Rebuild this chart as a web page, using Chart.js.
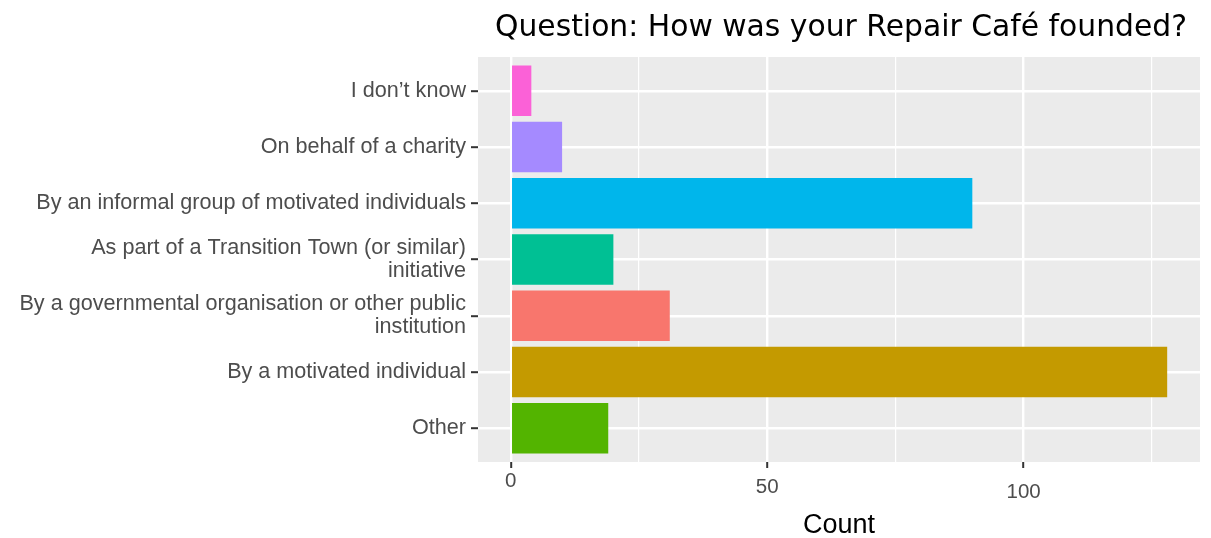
<!DOCTYPE html>
<html>
<head>
<meta charset="utf-8">
<script src="https://cdn.jsdelivr.net/npm/chart.js@4/dist/chart.umd.min.js"></script>
<style>
  html, body { margin: 0; padding: 0; background: #fff; }
  canvas { display: block; }
</style>
</head>
<body>
<canvas id="chart" width="1211" height="538"></canvas>
<script>
const chartTitle = 'Question: How was your Repair Café founded?';
const axisTitle = 'Count';

// top to bottom, as in the picture
const categories = [
    'I don\u2019t know',
    'On behalf of a charity',
    'By an informal group of motivated individuals',
    'As part of a Transition Town (or similar)\ninitiative',
    'By a governmental organisation or other public\ninstitution',
    'By a motivated individual',
    'Other',
];
const counts = [4, 10, 90, 20, 31, 128, 19];
const barColors = ['#FB61D7', '#A58AFF', '#00B6EB', '#00C094', '#F8766D', '#C49A00', '#53B400'];

const xGridTicks = [0, 25, 50, 75, 100, 125];
const xLabelTicks = [0, 50, 100];

const AXIS_FONT = "'Liberation Sans', Arial, sans-serif";
const TEXT_GREY = '#4D4D4D';

const ggPanel = {
    id: 'ggPanel',
    beforeDraw(chart) {
        const { ctx, chartArea } = chart;
        ctx.save();
        ctx.fillStyle = '#EBEBEB';
        ctx.fillRect(chartArea.left, chartArea.top, chartArea.right - chartArea.left, chartArea.bottom - chartArea.top);
        ctx.restore();
    },
    afterDraw(chart) {
        const { ctx, chartArea, scales } = chart;
        const mid = (chartArea.left + chartArea.right) / 2;

        ctx.save();
        ctx.fillStyle = '#000';
        ctx.textAlign = 'center';
        ctx.textBaseline = 'alphabetic';
        ctx.font = "29.8px 'DejaVu Sans', sans-serif";
        ctx.fillText(chartTitle, mid + 2, 36);

        ctx.font = '27px ' + AXIS_FONT;
        ctx.fillText(axisTitle, mid, 533);

        // x tick labels sit a little lower each step in the source
        ctx.fillStyle = TEXT_GREY;
        ctx.font = '20.5px ' + AXIS_FONT;
        xLabelTicks.forEach((v, k) => {
            const x = scales.x.getPixelForValue(v);
            ctx.fillText(String(v), x, chartArea.bottom + 25 + k * 5.5);
        });
        ctx.restore();
    },
};

new Chart(document.getElementById('chart'), {
    type: 'bar',
    data: {
        datasets: [{
            data: counts.map((c, i) => ({ x: c, y: i + 1 })),
            backgroundColor: barColors,
            borderWidth: 0,
            barPercentage: 0.9,
            categoryPercentage: 1,
        }],
    },
    options: {
        indexAxis: 'y',
        responsive: false,
        animation: false,
        devicePixelRatio: 1,
        layout: { padding: { top: 57, right: 11, left: 0, bottom: 0 } },
        plugins: {
            legend: { display: false },
            title: { display: false },
            tooltip: { enabled: false },
        },
        scales: {
            x: {
                type: 'linear',
                position: 'bottom',
                min: -6.4,
                max: 134.4,
                afterBuildTicks: (axis) => { axis.ticks = xGridTicks.map((v) => ({ value: v })); },
                afterFit: (axis) => { axis.height = 76; },
                border: { display: false },
                grid: {
                    color: '#FFFFFF',
                    lineWidth: (c) => (c.tick && c.tick.value % 50 === 0 ? 2.4 : 1.2),
                    drawTicks: true,
                    tickLength: 6,
                    tickWidth: 2,
                    tickColor: (c) => (c.tick && c.tick.value % 50 === 0 ? '#333333' : 'rgba(0,0,0,0)'),
                },
                ticks: { display: false },
            },
            y: {
                type: 'linear',
                position: 'left',
                reverse: true,
                offset: false,
                min: 0.4,
                max: 7.6,
                afterBuildTicks: (axis) => { axis.ticks = categories.map((_, i) => ({ value: i + 1 })); },
                afterFit: (axis) => { axis.width = 478; },
                border: { display: false },
                grid: {
                    offset: false,
                    color: '#FFFFFF',
                    lineWidth: 2.4,
                    drawTicks: true,
                    tickLength: 7,
                    tickWidth: 2,
                    tickColor: '#333333',
                },
                ticks: {
                    autoSkip: false,
                    padding: 5,
                    color: TEXT_GREY,
                    font: { family: AXIS_FONT, size: 21.6, lineHeight: 1.07 },
                    callback: (v) => {
                        const label = categories[Math.round(v) - 1];
                        return label ? label.split('\n') : '';
                    },
                },
            },
        },
    },
    plugins: [ggPanel],
});
</script>
</body>
</html>
